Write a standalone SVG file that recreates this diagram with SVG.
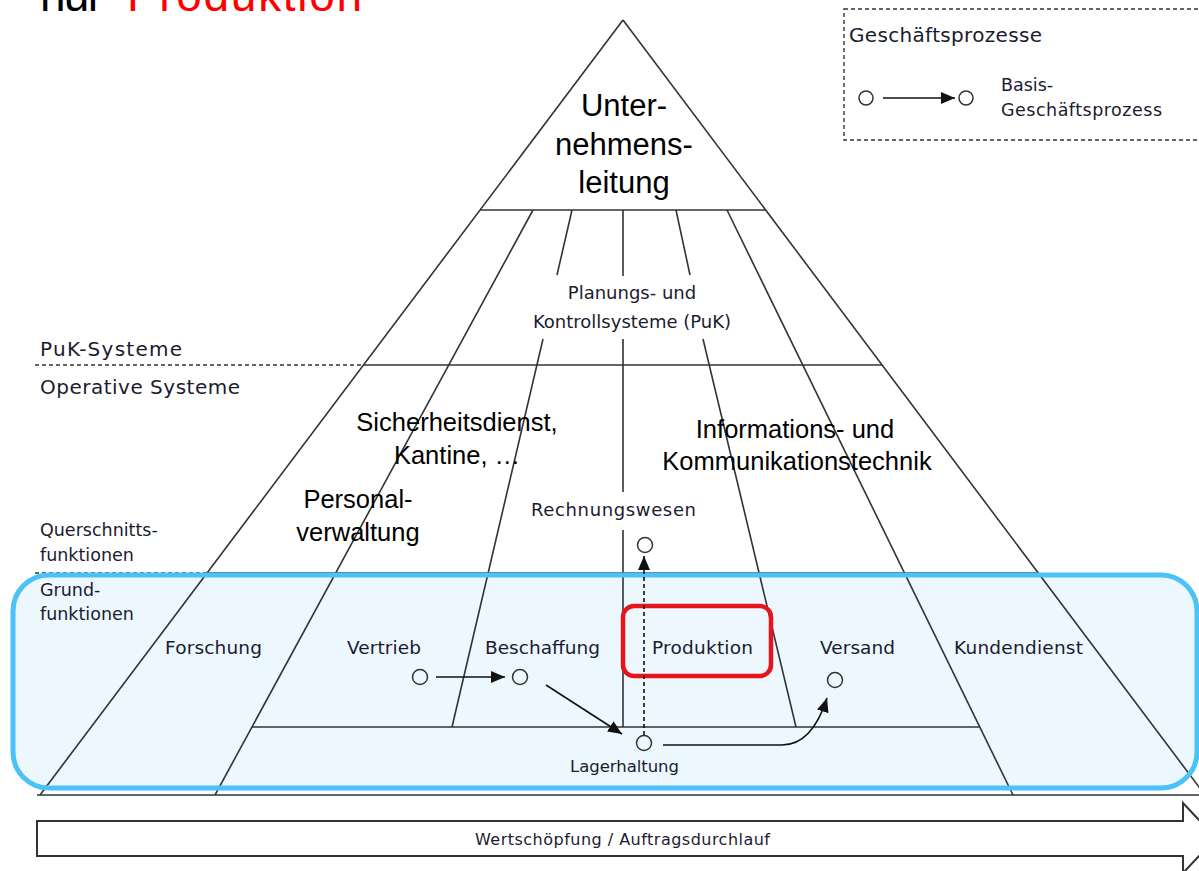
<svg xmlns="http://www.w3.org/2000/svg" width="1199" height="871" viewBox="0 0 1199 871">
<defs>
<marker id="ah" markerUnits="userSpaceOnUse" markerWidth="16" markerHeight="12" refX="14" refY="6" orient="auto">
<path d="M0,0 L14,6 L0,12 Z" fill="#111"/>
</marker>
<style>
.ln{stroke:#333;stroke-width:1.6;fill:none}
.dash{stroke:#333;stroke-width:1.4;fill:none;stroke-dasharray:4 3}
.t{font-family:"DejaVu Sans",sans-serif;fill:#1b1b30}
.a{font-family:"Liberation Sans",Arial,sans-serif;fill:#000}
.c{fill:none;stroke:#333;stroke-width:1.5}
.cn{stroke:#111;stroke-width:1.6;fill:none;marker-end:url(#ah)}
</style>
</defs>
<rect width="1199" height="871" fill="#fff"/>

<g id="title">
<text class="a" x="40" y="11" font-size="46" textLength="63">nur</text>
<text class="a" x="127" y="11" font-size="46" textLength="235" fill="#ff0000" style="fill:#ff0000">Produktion</text>
</g>

<g id="grundfunktionen-bg">
<rect x="13" y="575" width="1184" height="213" rx="36" fill="#ecf7fe"/>
</g>

<g id="pyramid">
<path class="ln" d="M623,20 L40,795 M623,20 L1205,795"/>
<path class="ln" d="M480,210 H766"/>
<path class="ln" d="M364,365 H882"/>
<path class="dash" d="M35,365 H364"/>
<path class="ln" d="M207,573 H1039"/>
<path class="dash" d="M35,573 H207"/>
<path class="ln" d="M252,727 H980"/>
<path class="ln" d="M37,795 H1199"/>
<path class="ln" d="M533,210 L215,795"/>
<path class="ln" d="M572,210 L557,275 M543,339 L452,727"/>
<path class="ln" d="M623,210 V276 M623,339 V492 M623,530 V727"/>
<path class="ln" d="M676,210 L690,275 M703,339 L796,727"/>
<path class="ln" d="M727,210 L1013,795"/>
</g>

<g id="grundfunktionen-frame">
<rect x="13" y="575" width="1184" height="213" rx="36" fill="none" stroke="#4cc2f8" stroke-width="5"/>
</g>

<g id="unternehmensleitung">
<text class="a" font-size="31" text-anchor="middle"><tspan x="624" y="116">Unter-</tspan><tspan x="624" y="155">nehmens-</tspan><tspan x="624" y="193">leitung</tspan></text>
</g>

<g id="puk">
<text class="t" font-size="18" text-anchor="middle"><tspan x="632" y="299">Planungs- und</tspan><tspan x="632" y="328">Kontrollsysteme (PuK)</tspan></text>
</g>

<g id="ebenen">
<text class="t" font-size="20" x="40" y="356" textLength="142">PuK-Systeme</text>
<text class="t" font-size="20" x="40" y="394" textLength="200">Operative Systeme</text>
<text class="t" font-size="17.5"><tspan x="40" y="536">Querschnitts-</tspan><tspan x="40" y="561">funktionen</tspan></text>
<text class="t" font-size="17.5"><tspan x="40" y="596">Grund-</tspan><tspan x="40" y="620">funktionen</tspan></text>
</g>

<g id="querschnitt">
<text class="a" font-size="25.5" text-anchor="middle"><tspan x="457" y="431">Sicherheitsdienst,</tspan><tspan x="457" y="464">Kantine, …</tspan></text>
<text class="a" font-size="25.5" text-anchor="middle"><tspan x="358" y="508">Personal-</tspan><tspan x="358" y="541">verwaltung</tspan></text>
<text class="a" font-size="25.5" text-anchor="middle"><tspan x="795" y="438">Informations- und</tspan><tspan x="797" y="470">Kommunikationstechnik</tspan></text>
<text class="t" font-size="18" x="531" y="516" textLength="165">Rechnungswesen</text>
</g>

<g id="funktionen">
<text class="t" font-size="18.5" x="165" y="654" textLength="97">Forschung</text>
<text class="t" font-size="18.5" x="347" y="654" textLength="74">Vertrieb</text>
<text class="t" font-size="18.5" x="485" y="654" textLength="115">Beschaffung</text>
<text class="t" font-size="18.5" x="652" y="654" textLength="101">Produktion</text>
<text class="t" font-size="18.5" x="820" y="654" textLength="75">Versand</text>
<text class="t" font-size="18.5" x="954" y="654" textLength="129">Kundendienst</text>
<text class="t" font-size="16.5" x="570" y="772" textLength="109">Lagerhaltung</text>
</g>

<g id="produktion-highlight">
<rect x="623" y="606" width="148" height="70" rx="11" fill="none" stroke="#e8141c" stroke-width="4.5"/>
</g>

<g id="prozesse">
<circle id="p-vertrieb" class="c" cx="420" cy="677" r="7.5"/>
<circle id="p-beschaffung" class="c" cx="520" cy="677" r="7.5"/>
<circle id="p-lager" class="c" cx="644" cy="743" r="7.5"/>
<circle id="p-versand" class="c" cx="835" cy="680" r="7.5"/>
<circle id="p-rechnung" class="c" cx="645" cy="545" r="7.5"/>
</g>

<g id="connectors">
<path class="cn" d="M436,677 H505"/>
<path class="cn" d="M546,685 L622,734"/>
<path class="cn" d="M663,745 H782 Q812,745 827,698"/>
<path class="cn" d="M644,735 V556" stroke-dasharray="4 3"/>
</g>

<g id="legend">
<rect x="844" y="9" width="370" height="131" fill="none" stroke="#333" stroke-width="1.4" stroke-dasharray="4 3"/>
<text class="t" font-size="20" x="849" y="42" textLength="193">Geschäftsprozesse</text>
<circle class="c" cx="866" cy="98" r="7"/>
<circle class="c" cx="966" cy="98" r="7"/>
<path class="cn" d="M883,98 H955"/>
<text class="t" font-size="17.5"><tspan x="1001" y="91">Basis-</tspan><tspan x="1001" y="116" textLength="161">Geschäftsprozess</tspan></text>
</g>

<g id="wertschoepfung">
<path d="M37,821 H1183 V803 L1216,838 L1183,873 V856 H37 Z" fill="#fff" stroke="#333" stroke-width="2"/>
<text class="t" font-size="16" x="475" y="845" textLength="295">Wertschöpfung / Auftragsdurchlauf</text>
</g>
</svg>
